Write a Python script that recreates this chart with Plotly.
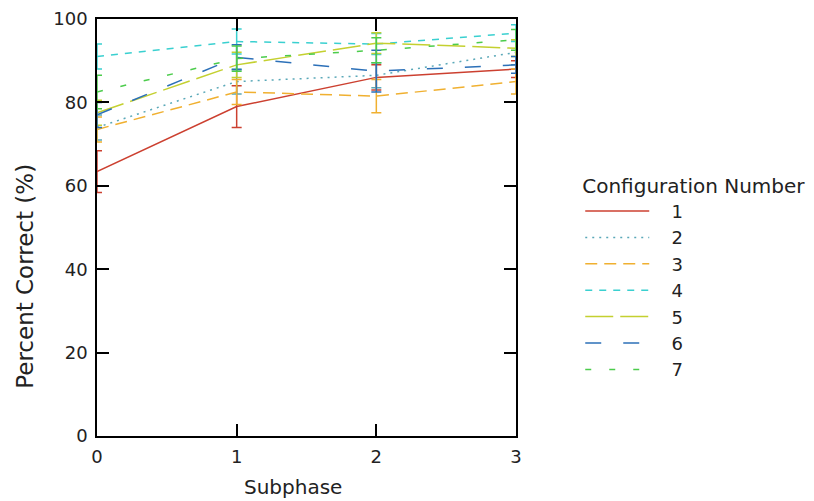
import plotly.graph_objects as go

subphase = [0, 1, 2, 3]
config_names = ["1", "2", "3", "4", "5", "6", "7"]
values = [
    [63.4, 79.0, 86.0, 88.0],
    [74.0, 85.0, 86.5, 92.0],
    [73.5, 82.5, 81.5, 85.0],
    [91.0, 94.6, 94.0, 96.6],
    [77.5, 89.0, 94.2, 93.0],
    [77.0, 90.8, 87.5, 89.0],
    [82.5, 90.5, 92.5, 95.0],
]
errors = [
    [5.0, 5.0, 3.0, 2.0],
    [3.0, 3.0, 3.0, 3.0],
    [3.0, 3.0, 4.0, 3.0],
    [3.0, 3.0, 2.5, 2.0],
    [3.0, 3.0, 2.5, 2.0],
    [3.0, 3.0, 5.0, 2.0],
    [4.0, 3.0, 3.0, 2.5],
]
colors = ["#cc4030", "#5aa8b8", "#f0b030", "#3ad0d0", "#c4d030", "#2c70b8", "#4ccc4c"]
dashes = ["solid", "2px,5px", "12px,7px", "7px,7px", "28px,7px", "16px,22px", "6px,18px"]

FONT = "DejaVu Sans, Verdana, sans-serif"
PAD = "\u00a0\u00a0\u00a0"

fig = go.Figure()
for name, vals, err, col, dsh in zip(config_names, values, errors, colors, dashes):
    fig.add_trace(go.Scatter(
        x=subphase, y=vals, name=PAD + name, mode="lines",
        legendgroup=name,
        line=dict(color=col, width=1.5, dash=dsh),
        error_y=dict(type="data", array=err, visible=True, color=col, thickness=1.5, width=5),
    ))

axis_common = dict(
    showgrid=False, zeroline=False, showline=True, linecolor="black", linewidth=1.5,
    mirror="ticks", ticks="inside", ticklen=12, tickcolor="black", tickwidth=1.5,
    tickfont=dict(family=FONT, size=18, color="#222"), automargin=False,
)

fig.update_layout(
    width=814, height=501,
    margin=dict(l=89, r=306, t=11, b=73, autoexpand=False),
    paper_bgcolor="white", plot_bgcolor="white",
    font=dict(family=FONT, size=18, color="#222"),
    xaxis=dict(range=[0, 3], tickvals=[0, 1, 2, 3], ticklabelstandoff=4, **axis_common),
    yaxis=dict(range=[0, 100], tickvals=[0, 20, 40, 60, 80, 100], ticklabelstandoff=4, **axis_common),
    legend=dict(
        title=dict(text="Configuration Number", font=dict(size=20)),
        xref="container", yref="container",
        x=0.703, xanchor="left", y=0.683, yanchor="top",
        font=dict(size=18), tracegroupgap=0, itemwidth=64,
        bgcolor="rgba(0,0,0,0)",
    ),
    annotations=[
        dict(text="Subphase", xref="paper", yref="paper", x=0.468, y=-0.122,
             xanchor="center", yanchor="middle", showarrow=False,
             font=dict(family=FONT, size=20, color="#222")),
        dict(text="Percent Correct (%)", xref="paper", yref="paper", x=-0.172, y=0.384,
             xanchor="center", yanchor="middle", showarrow=False, textangle=-90,
             font=dict(family=FONT, size=23, color="#222")),
    ],
)

fig.write_html("out.html")
